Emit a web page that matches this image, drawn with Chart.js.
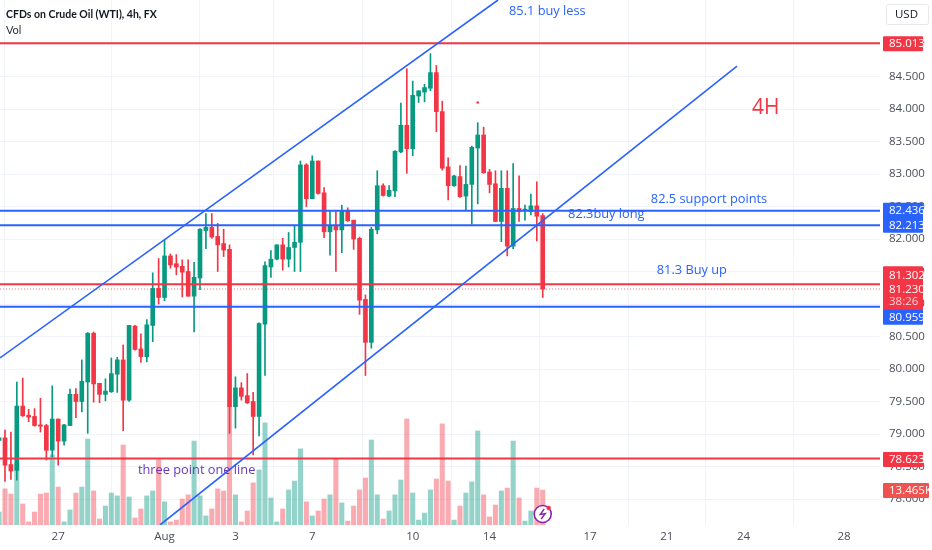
<!DOCTYPE html>
<html><head><meta charset="utf-8">
<style>html,body{margin:0;padding:0;background:#fff}canvas{display:block}</style>
<script src="https://cdn.jsdelivr.net/npm/chart.js@4"></script>
</head><body><canvas id="c" width="932" height="550"></canvas>
<script>
const opens=[78.90,78.94,78.53,78.44,79.43,79.29,79.27,79.14,79.13,78.75,79.23,78.89,79.13,79.61,79.50,79.80,80.55,79.78,79.61,79.65,79.92,80.14,79.52,80.66,80.31,80.19,80.67,81.24,81.10,81.74,81.62,81.58,81.50,81.12,81.40,82.13,82.18,82.04,81.93,81.84,79.42,79.71,79.59,79.50,79.27,80.69,81.57,81.69,81.91,81.69,81.87,81.95,83.14,82.62,83.20,82.71,82.11,82.21,82.14,82.44,82.29,82.01,81.07,80.41,82.14,82.82,82.66,82.74,83.34,83.75,83.39,84.20,84.26,84.32,84.56,83.96,83.11,82.82,82.96,82.66,82.84,83.40,83.60,83.03,82.85,82.27,82.78,81.89,82.47,82.44,82.42,82.51,82.36];
const highs=[79.05,79.06,79.03,79.80,79.86,79.38,79.39,79.55,79.15,79.74,79.23,79.15,79.69,79.70,80.14,80.56,80.57,79.78,79.85,80.17,80.18,80.37,80.67,80.67,80.54,80.76,81.48,81.70,81.98,81.77,81.76,81.68,81.68,81.64,82.16,82.39,82.39,82.24,82.15,81.91,79.88,79.79,79.93,79.64,80.71,81.65,81.82,81.91,82.01,82.10,82.20,83.20,83.16,83.28,83.20,82.79,82.43,82.44,82.52,82.48,82.29,82.03,81.14,82.18,83.05,82.85,82.82,83.36,84.09,84.62,84.43,84.28,84.38,84.85,84.67,84.12,83.25,82.98,83.13,83.12,83.43,83.79,83.72,83.07,83.05,83.05,83.05,83.16,82.97,82.52,82.69,82.88,82.39];
const lows=[78.85,78.27,78.30,78.29,79.27,79.19,79.12,79.03,78.60,78.65,78.52,78.83,79.13,79.25,79.34,79.01,79.49,79.48,79.51,79.64,79.64,79.05,79.50,80.29,80.10,80.11,80.42,81.00,81.05,81.55,81.45,81.11,81.12,80.57,81.22,81.85,82.01,81.50,81.73,79.01,79.09,79.52,79.47,78.68,78.97,79.90,81.41,81.68,81.52,81.57,81.50,81.50,82.50,82.62,82.69,82.02,81.75,81.50,81.79,82.27,81.84,80.84,79.90,80.32,82.08,82.66,82.65,82.65,83.33,83.01,83.28,84.10,84.11,84.28,83.65,83.06,82.60,82.81,82.64,82.44,82.23,82.54,83.01,82.71,82.27,81.96,81.74,81.85,82.27,82.29,82.37,81.97,81.10];
const closes=[78.94,78.52,78.43,79.43,79.28,79.26,79.13,79.12,78.75,79.23,78.89,79.14,79.61,79.50,79.81,80.55,79.77,79.61,79.66,79.93,80.14,79.52,80.67,80.30,80.19,80.68,81.24,81.10,81.74,81.60,81.57,81.49,81.12,81.41,82.15,82.18,82.03,81.91,81.83,79.42,79.71,79.58,79.48,79.27,80.70,81.59,81.69,81.91,81.69,81.87,81.95,83.14,82.62,83.20,82.70,82.11,82.21,82.14,82.43,82.28,82.00,81.06,80.41,82.15,82.82,82.67,82.75,83.35,83.75,83.39,84.21,84.28,84.33,84.56,83.96,83.09,82.82,82.97,82.65,82.84,83.41,83.60,83.02,82.84,82.27,82.78,81.89,82.47,82.42,82.46,82.51,82.35,81.23];
const volumesK=[5.0,13.9,11.9,23.9,8.1,1.2,5.0,11.9,12.3,27.0,14.6,1.2,5.8,12.3,14.6,33.1,13.1,2.3,7.3,12.3,11.2,30.8,10.8,2.7,6.2,11.2,13.1,25.0,8.9,1.2,1.9,10.0,11.6,32.3,11.2,3.5,6.2,13.9,13.1,45.4,11.6,1.2,5.4,16.2,21.2,39.3,10.4,1.2,6.2,13.5,16.9,29.3,8.9,3.5,5.4,10.0,11.6,25.4,8.5,1.5,7.3,13.5,18.1,32.7,11.6,2.3,5.4,11.6,17.3,40.8,12.3,1.9,4.6,13.5,17.7,38.9,16.9,1.9,7.3,12.3,16.6,36.2,11.6,3.1,7.7,13.1,14.2,32.3,10.4,1.5,5.4,14.2,13.465];
const tickPositions=[10,28,40,53,70,83,100,113,126,143];
const tickLabels=['27','Aug','3','7','10','14','17','21','24','28'];
const priceTicksStep=0.5;
const upperChannel=[{x:0.15,y:80.17},{x:84.43,y:85.677}];
const lowerChannel=[{x:27.23,y:77.6},{x:124.88,y:84.66}];
const levelValues=[85.013,82.436,82.213,81.302,80.959,78.623];
const lastPrice=81.230;
const strayTick=[{x:81,y:84.10}];
const noteTexts=['85.1 buy less','4H','82.5 support points','82.3buy long','81.3 Buy up','three point one line'];
const noteX=[86.3,127.4,110.3,96.3,111.3,23.5];
const noteY=[85.495,84.02,82.615,82.385,81.525,78.435];

const RED='#f23645',GREEN='#089981',BLUE='#2962ff';
const X0=0.155,X1=149.08;
const isUp=opens.map((o,i)=>closes[i]>=o);
const candleColors=isUp.map(u=>u?GREEN:RED);
const volColors=isUp.map(u=>u?'rgba(8,153,129,0.43)':'rgba(242,54,69,0.42)');
const levelColor=v=>(v===82.436||v===82.213||v===80.959)?BLUE:RED;
const FONT='"Open Sans", sans-serif';
const AXISFONT='"Liberation Sans Narrow", "Open Sans", sans-serif';

const noPad=s=>{s.paddingLeft=s.paddingRight=s.paddingTop=s.paddingBottom=0;};
const overlay={id:'overlay',afterDatasetsDraw(ch){
  const c=ch.ctx,x=ch.scales.x,y=ch.scales.y,y2=ch.scales.y2;
  c.save();
  const noteStyle=[['#2962ff',12.8],[RED,21],['#2962ff',12.8],['#2962ff',12.8],['#2962ff',12.8],['#673ab7',12.8]];
  c.textAlign='left';c.textBaseline='middle';
  noteTexts.forEach((t,i)=>{c.fillStyle=noteStyle[i][0];c.font=noteStyle[i][1]+'px '+FONT;
    c.fillText(t,x.getPixelForValue(noteX[i]),y.getPixelForValue(noteY[i]));});
  c.fillStyle='#131722';c.font='bold 10.5px Lato, sans-serif';c.fillText('CFDs on Crude Oil (WTI), 4h, FX',6,15);
  c.fillStyle='#2a2e39';c.font='11px Lato, sans-serif';c.fillText('Vol',6,30);
  c.strokeStyle='#e6e8ee';c.lineWidth=1;c.beginPath();c.roundRect(886.5,4.5,42,20,2);c.stroke();
  c.fillStyle='#131722';c.font='11.5px '+AXISFONT;c.textAlign='center';c.fillText('USD',906.5,15);
  const L=883,W=40;
  const box=(top,h,col,w)=>{c.fillStyle=col;c.beginPath();c.roundRect(L,top,w||W,h,1);c.fill();};
  const label=(t,py,col)=>{c.fillStyle=col||'#fff';c.font='11.5px '+AXISFONT;c.textAlign='left';c.fillText(t,889,py);};
  const p=v=>y.getPixelForValue(v);
  box(p(85.013)-7,15,RED);label('85.013',p(85.013)+0.5);
  box(p(82.436)-8,30,BLUE);label('82.436',p(82.436)+0.5);label('82.213',p(82.213)+1);
  box(p(81.302)-18,45,RED);label('81.302',p(81.302)-9);label(lastPrice.toFixed(3),p(lastPrice)+1);label('38:26',p(lastPrice)+13,'#ffd0d4');
  box(p(80.959)+3,15,BLUE);label('80.959',p(80.959)+11);
  box(p(78.623)-6.5,15,RED);label('78.623',p(78.623)+1.5);
  const lastVol=volumesK[volumesK.length-1];
  const vy=y2.getPixelForValue(lastVol);
  box(vy-7,15,'#ef5350',46);label('13.465K',vy+0.5);
  const lx=x.getPixelForValue(92),ly=514;
  c.strokeStyle='#8e24aa';c.lineWidth=1.6;c.fillStyle='#fff';c.beginPath();c.arc(lx,ly,8.5,0,Math.PI*2);c.fill();c.stroke();
  c.strokeStyle='#8e24aa';c.lineWidth=1.4;c.beginPath();c.moveTo(lx+1.5,ly-5);c.lineTo(lx-2.5,ly+0.5);c.lineTo(lx+2.5,ly-0.5);c.lineTo(lx-1.5,ly+5);c.stroke();
  c.fillStyle=RED;c.beginPath();c.arc(lx+6,ly-6,2.2,0,Math.PI*2);c.fill();
  c.restore();
}};

const volData=volumesK.map((v,i)=>({x:i,y:v}));
const wickData=lows.map((l,i)=>({x:i,y:[l,highs[i]]}));
const bodyData=opens.map((o,i)=>({x:i,y:[Math.min(o,closes[i]),Math.max(o,closes[i])]}));
const flat=(v)=>[{x:X0,y:v},{x:X1,y:v}];
const datasets=[
 {type:'bar',label:'Vol',data:volData,yAxisID:'y2',backgroundColor:volColors,barThickness:4.4,grouped:false,order:10,borderWidth:0},
 {type:'bar',label:'wick',data:wickData,yAxisID:'y',backgroundColor:candleColors,barThickness:1,grouped:false,order:9,borderWidth:0},
 {type:'bar',label:'body',data:bodyData,yAxisID:'y',backgroundColor:candleColors,barThickness:4,grouped:false,order:8,borderWidth:0},
 {type:'line',label:'stray',data:strayTick,yAxisID:'y',showLine:false,pointRadius:1.3,pointBackgroundColor:RED,pointBorderColor:RED,pointBorderWidth:0,order:7},
 {type:'line',label:'last',data:flat(lastPrice),yAxisID:'y',borderColor:'rgba(242,54,69,0.7)',borderWidth:1,borderDash:[1,2],pointRadius:0,order:6},
 ...levelValues.map(v=>({type:'line',label:'level',data:flat(v),yAxisID:'y',borderColor:levelColor(v),borderWidth:2,pointRadius:0,order:5})),
 {type:'line',label:'upper',data:upperChannel,yAxisID:'y',borderColor:BLUE,borderWidth:1.6,pointRadius:0,order:4},
 {type:'line',label:'lower',data:lowerChannel,yAxisID:'y',borderColor:BLUE,borderWidth:1.6,pointRadius:0,order:4}
];
new Chart(document.getElementById('c'),{
 type:'bar',
 data:{datasets},
 plugins:[overlay],
 options:{
  responsive:false,animation:false,devicePixelRatio:1,
  layout:{padding:0,autoPadding:false},
  plugins:{legend:{display:false},title:{display:false},tooltip:{enabled:false}},
  scales:{
   x:{type:'linear',min:X0,max:X1,offset:false,
      afterBuildTicks(s){s.ticks=tickPositions.map(v=>({value:v}));},
      afterFit(s){s.height=25;noPad(s);},
      grid:{color:'#f0f3fa',drawTicks:false},border:{display:false},
      ticks:{autoSkip:false,maxRotation:0,padding:5,color:'#4a4e59',font:{family:AXISFONT,size:11.5},
        callback(v){const k=tickPositions.indexOf(v);return k>=0?tickLabels[k]:'';}}},
   y:{position:'right',min:77.6,max:85.677,
      afterBuildTicks(s){const out=[];for(let v=78;v<=85;v+=priceTicksStep)out.push({value:v});s.ticks=out;},
      afterFit(s){s.width=52;noPad(s);},
      grid:{color:'#f0f3fa',drawTicks:false},border:{display:false},
      ticks:{padding:9,color:'#4a4e59',font:{family:AXISFONT,size:11.5},
        callback(v){return v.toFixed(3);}}},
   y2:{display:false,min:0,max:202}
  }
 }
});
</script></body></html>
